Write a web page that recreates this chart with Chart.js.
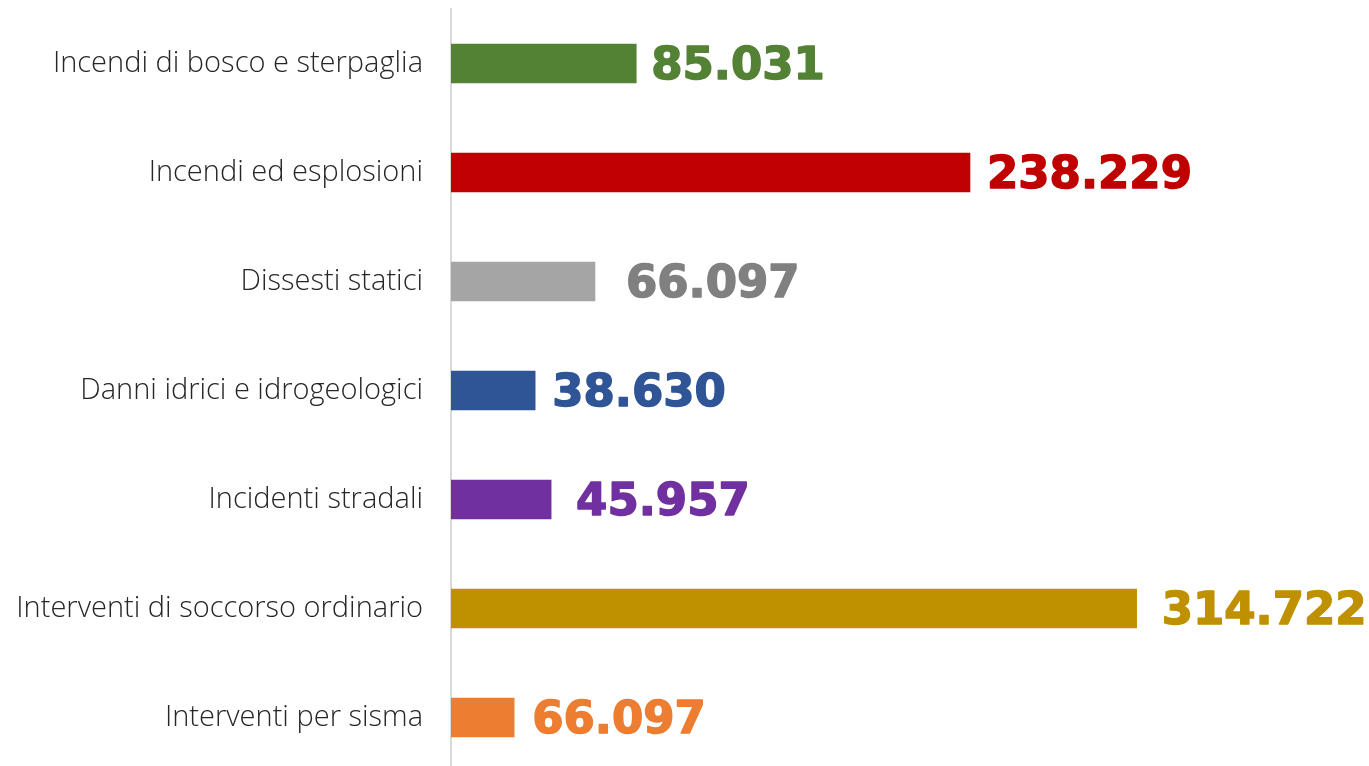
<!DOCTYPE html>
<html lang="it">
<head>
<meta charset="utf-8">
<title>Interventi</title>
<script src="https://cdn.jsdelivr.net/npm/chart.js@4/dist/chart.umd.min.js"></script>
<style>
    html, body { margin: 0; padding: 0; background: #fff; overflow: hidden; }
    #wrap { position: relative; width: 1369px; height: 772px; }
</style>
</head>
<body>
<div id="wrap"><canvas id="chart"></canvas></div>
<script>
// --- DATA ---
const categories = [
    'Incendi di bosco e sterpaglia',
    'Incendi ed esplosioni',
    'Dissesti statici',
    'Danni idrici e idrogeologici',
    'Incidenti stradali',
    'Interventi di soccorso ordinario',
    'Interventi per sisma'
];
// bar lengths as drawn in the picture
const values = [85031, 238229, 66097, 38630, 45957, 314722, 29000];
// printed labels (the last one is printed as 66.097 in the original)
const valueLabels = ['85.031', '238.229', '66.097', '38.630', '45.957', '314.722', '66.097'];
const barColors = ['#548235', '#C00000', '#A5A5A5', '#2F5597', '#7030A0', '#BF9000', '#ED7D31'];
const labelColors = ['#548235', '#C00000', '#808080', '#2F5597', '#7030A0', '#BF9000', '#ED7D31'];
const labelGaps = [15, 17, 31, 17, 25, 25, 18];

// --- VALUE LABELS PLUGIN ---
const valueLabelPlugin = {
    id: 'valueLabels',
    afterDatasetsDraw(chart) {
        const { ctx } = chart;
        const meta = chart.getDatasetMeta(0);
        ctx.save();
        ctx.font = 'bold 45px "DejaVu Sans"';
        ctx.textAlign = 'left';
        ctx.textBaseline = 'alphabetic';
        ctx.lineWidth = 1.5;
        ctx.lineJoin = 'round';
        meta.data.forEach((bar, i) => {
            ctx.fillStyle = labelColors[i];
            ctx.strokeStyle = labelColors[i];
            ctx.fillText(valueLabels[i], bar.x + labelGaps[i], bar.y + 15);
            ctx.strokeText(valueLabels[i], bar.x + labelGaps[i], bar.y + 15);
        });
        ctx.restore();
    }
};

new Chart(document.getElementById('chart').getContext('2d'), {
    type: 'bar',
    data: {
        labels: categories,
        datasets: [{
            data: values,
            backgroundColor: barColors,
            barThickness: 39,
            borderWidth: 0
        }]
    },
    options: {
        indexAxis: 'y',
        responsive: true,
        maintainAspectRatio: false,
        animation: false,
        layout: { padding: { top: 9, right: 3, left: 0, bottom: 0 } },
        plugins: { legend: { display: false }, tooltip: { enabled: false } },
        scales: {
            x: {
                min: 0,
                max: 420000,
                display: false
            },
            y: {
                afterFit: (scale) => {
                    scale.width = 451;
                    scale.paddingTop = 0;
                    scale.paddingBottom = 0;
                },
                grid: { display: false, drawOnChartArea: false },
                border: { display: true, color: '#D9D9D9', width: 2 },
                ticks: {
                    color: '#262626',
                    padding: 20,
                    font: { family: '"Open Sans"', size: 29, weight: '300' }
                }
            }
        }
    },
    plugins: [valueLabelPlugin]
});
</script>
</body>
</html>
